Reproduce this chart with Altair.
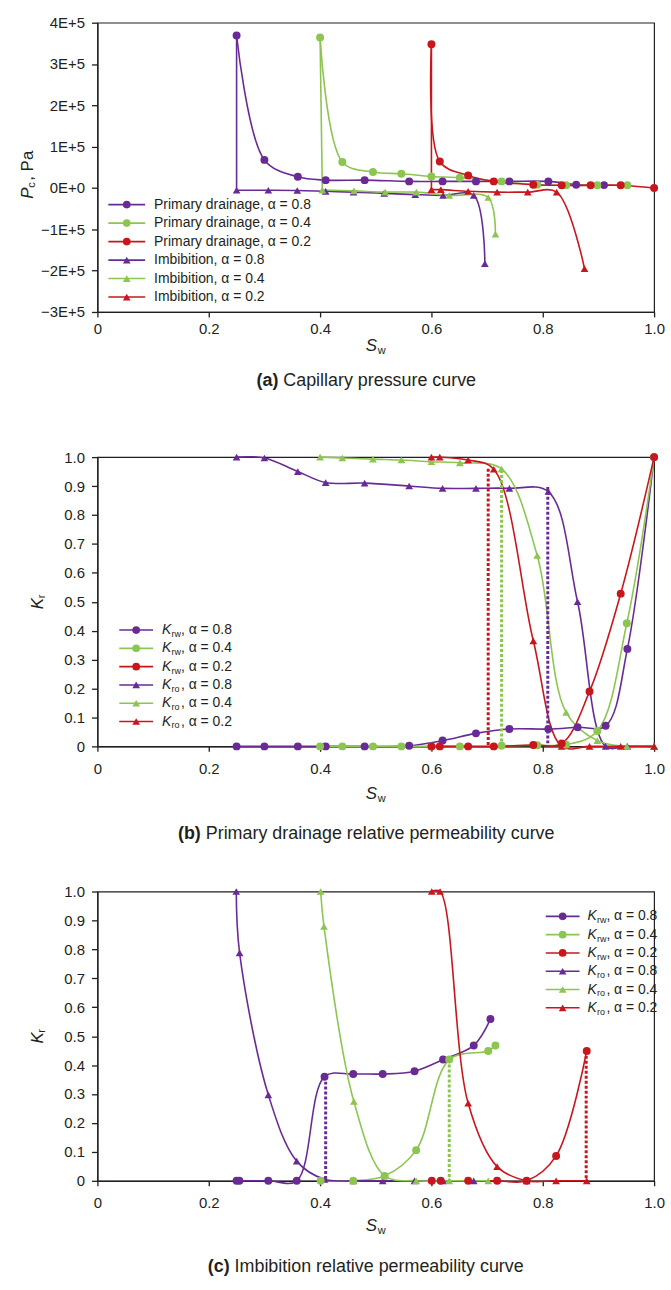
import altair as alt
import pandas as pd

FONT = "Liberation Sans"
INK = "#231f20"
PURPLE = "#6a2a96"
GREEN = "#8cc54f"
RED = "#c9161d"
W, H = 560, 291

X_TICKS = [0, 0.2, 0.4, 0.6, 0.8, 1.0]

# ---------------- (a) Capillary pressure curve ----------------
a_pd08_sw = [0.25, 0.30, 0.36, 0.41, 0.48, 0.56, 0.62, 0.68, 0.74, 0.81, 0.86, 0.91]
a_pd08_pc = [3.69e5, 0.68e5, 0.27e5, 0.19e5, 0.19e5, 0.16e5, 0.16e5, 0.16e5, 0.16e5, 0.16e5, 0.08e5, 0.07e5]
a_pd04_sw = [0.40, 0.44, 0.495, 0.546, 0.60, 0.651, 0.726, 0.79, 0.842, 0.898, 0.952]
a_pd04_pc = [3.64e5, 0.63e5, 0.385e5, 0.345e5, 0.28e5, 0.25e5, 0.16e5, 0.08e5, 0.065e5, 0.065e5, 0.065e5]
a_pd02_sw = [0.60, 0.615, 0.666, 0.712, 0.783, 0.834, 0.886, 0.94, 1.0]
a_pd02_pc = [3.48e5, 0.64e5, 0.305e5, 0.16e5, 0.08e5, 0.065e5, 0.065e5, 0.065e5, 0.0]
a_im08_sw = [0.25, 0.25, 0.307, 0.359, 0.41, 0.46, 0.515, 0.571, 0.621, 0.676, 0.696]
a_im08_pc = [3.69e5, -0.055e5, -0.055e5, -0.06e5, -0.08e5, -0.10e5, -0.13e5, -0.16e5, -0.18e5, -0.18e5, -1.83e5]
a_im04_sw = [0.40, 0.404, 0.461, 0.517, 0.573, 0.632, 0.702, 0.715]
a_im04_pc = [3.64e5, -0.05e5, -0.07e5, -0.10e5, -0.10e5, -0.18e5, -0.23e5, -1.12e5]
a_im02_sw = [0.60, 0.60, 0.617, 0.666, 0.718, 0.773, 0.825, 0.875]
a_im02_pc = [3.48e5, -0.04e5, -0.04e5, -0.08e5, -0.10e5, -0.10e5, -0.10e5, -1.95e5]
a_y_ticks = [-3e5, -2e5, -1e5, 0, 1e5, 2e5, 3e5, 4e5]
a_legend = ["Primary drainage, \u03b1 = 0.8", "Primary drainage, \u03b1 = 0.4",
            "Primary drainage, \u03b1 = 0.2", "Imbibition, \u03b1 = 0.8",
            "Imbibition, \u03b1 = 0.4", "Imbibition, \u03b1 = 0.2"]

# ---------------- (b) Primary drainage relative permeability ----------------
b_krw08_sw = [0.25, 0.30, 0.36, 0.41, 0.48, 0.56, 0.62, 0.68, 0.74, 0.81, 0.8625, 0.913, 0.952, 1.0]
b_krw08_kr = [0, 0, 0, 0, 0, 0.002, 0.02, 0.045, 0.06, 0.06, 0.066, 0.071, 0.337, 1.0]
b_krw04_sw = [0.40, 0.44, 0.495, 0.546, 0.60, 0.651, 0.726, 0.79, 0.842, 0.898, 0.951, 1.0]
b_krw04_kr = [0, 0, 0, 0, 0, 0, 0.002, 0.004, 0.006, 0.053, 0.426, 1.0]
b_krw02_sw = [0.60, 0.615, 0.666, 0.712, 0.783, 0.834, 0.884, 0.940, 1.0]
b_krw02_kr = [0, 0, 0, 0, 0.005, 0.01, 0.19, 0.528, 1.0]
b_kro08_sw = [0.25, 0.30, 0.36, 0.41, 0.48, 0.56, 0.62, 0.68, 0.74, 0.81, 0.8625, 0.913, 0.952, 1.0]
b_kro08_kr = [1.0, 0.997, 0.95, 0.912, 0.91, 0.90, 0.892, 0.892, 0.892, 0.881, 0.50, 0.0, 0.0, 0.0]
b_kro04_sw = [0.40, 0.44, 0.495, 0.546, 0.60, 0.651, 0.726, 0.79, 0.842, 0.898, 0.951, 1.0]
b_kro04_kr = [1.0, 0.997, 0.993, 0.99, 0.984, 0.98, 0.959, 0.66, 0.117, 0.02, 0.0, 0.0]
b_kro02_sw = [0.60, 0.615, 0.666, 0.712, 0.783, 0.834, 0.884, 0.940, 1.0]
b_kro02_kr = [1.0, 1.0, 0.99, 0.958, 0.365, 0.0, 0.0, 0.0, 0.0]
b_dot_sw = [0.702, 0.726, 0.809]
b_dot_top = [0.96, 0.955, 0.897]
b_dot_col = [RED, GREEN, PURPLE]

# ---------------- (c) Imbibition relative permeability ----------------
c_krw08_sw = [0.25, 0.255, 0.307, 0.358, 0.408, 0.4595, 0.5125, 0.5696, 0.621, 0.676, 0.706]
c_krw08_kr = [0, 0, 0, 0, 0.36, 0.369, 0.369, 0.379, 0.419, 0.468, 0.559]
c_krw04_sw = [0.401, 0.4595, 0.516, 0.5726, 0.632, 0.702, 0.715]
c_krw04_kr = [0, 0, 0.017, 0.106, 0.419, 0.449, 0.468]
c_krw02_sw = [0.6006, 0.6166, 0.666, 0.718, 0.771, 0.824, 0.879]
c_krw02_kr = [0, 0, 0, 0, 0, 0.086, 0.449]
c_kro08_sw = [0.2494, 0.2554, 0.307, 0.358, 0.408, 0.4595, 0.5125, 0.5696, 0.621, 0.676]
c_kro08_kr = [1.0, 0.788, 0.297, 0.068, 0.005, 0.0, 0.0, 0.0, 0.0, 0.0]
c_kro04_sw = [0.401, 0.407, 0.4607, 0.516, 0.5726, 0.632, 0.702]
c_kro04_kr = [1.0, 0.879, 0.274, 0.017, 0.0, 0.0, 0.0]
c_kro02_sw = [0.6006, 0.6155, 0.666, 0.718, 0.771, 0.824, 0.879]
c_kro02_kr = [1.0, 1.0, 0.268, 0.049, 0.0, 0.0, 0.0]
c_dot_sw = [0.41, 0.632, 0.878]
c_dot_top = [0.36, 0.419, 0.449]
c_dot_col = [PURPLE, GREEN, RED]

kr_ticks = [round(0.1 * i, 1) for i in range(11)]
kr_sub = ["rw", "rw", "rw", "ro", "ro", "ro"]
kr_rest = [", \u03b1 = 0.8", ", \u03b1 = 0.4", ", \u03b1 = 0.2", ", \u03b1 = 0.8", ", \u03b1 = 0.4", ", \u03b1 = 0.2"]
series_colors = [PURPLE, GREEN, RED, PURPLE, GREEN, RED]
series_shapes = ["circle"] * 3 + ["triangle-up"] * 3


def build(series):
    """Curve rows (smoothed), straight first-segment rows, marker rows."""
    rows, segs = [], []
    for name, sw, v, color, shape, straight_first in series:
        for i, (x, y) in enumerate(zip(sw, v)):
            rec = dict(series=name, sw=x, v=y, color=color, shape=shape, idx=i,
                       marked=not (straight_first and i == 0))
            if straight_first and i <= 1:
                segs.append(dict(rec, series=name + "_seg"))
            if not (straight_first and i == 0):
                rows.append(rec)
    return pd.DataFrame(rows), (pd.DataFrame(segs) if segs else None)


def txt(label, x, y, size, style="normal", weight="normal", align="left", angle=0):
    kw = dict(align=align, baseline="middle", fontSize=size, font=FONT,
              fontStyle=style, fontWeight=weight, color=INK)
    if angle:
        kw["angle"] = angle
    return alt.Chart(pd.DataFrame({"t": [label]})).mark_text(**kw).encode(
        x=alt.value(x), y=alt.value(y), text="t:N")


def legend_sym(color, shape, x1, x2, y):
    d = pd.DataFrame({"c": [color]})
    rule = alt.Chart(d).mark_rule(strokeWidth=1.6, color=color).encode(
        x=alt.value(x1), x2=alt.value(x2), y=alt.value(y))
    pt = alt.Chart(d).mark_point(shape=shape, filled=True, opacity=1, size=60, color=color).encode(
        x=alt.value((x1 + x2) / 2), y=alt.value(y))
    return [rule, pt]


def panel(dfs, dots, ydom, yvals, yexpr, xpad, extra):
    df, segs = dfs
    xs = alt.Scale(domain=[0, 1], nice=False, zero=False)
    ys = alt.Scale(domain=ydom, nice=False, zero=False)
    xa = alt.Axis(values=X_TICKS, labelExpr="datum.value == 0 ? '0' : format(datum.value, '.1f')",
                  title=None, grid=False, labelFlush=False, labelOverlap=False,
                  tickSize=5, labelPadding=xpad)
    ya = alt.Axis(values=yvals, labelExpr=yexpr, title=None, grid=False, labelOverlap=False,
                  tickSize=6, labelPadding=7)
    X = alt.X("sw:Q", scale=xs, axis=xa)
    Y = alt.Y("v:Q", scale=ys, axis=ya)
    col = alt.Color("color:N", scale=None)
    layers = [alt.Chart(df).mark_line(interpolate="catmull-rom", strokeWidth=1.6).encode(
        x=X, y=Y, color=col, detail="series:N", order="idx:Q")]
    if segs is not None:
        layers.append(alt.Chart(segs).mark_line(strokeWidth=1.6).encode(
            x=X, y=Y, color=col, detail="series:N", order="idx:Q"))
    if dots is not None:
        layers.append(alt.Chart(dots).mark_rule(strokeDash=[3, 2], strokeWidth=3).encode(
            x=X, y=Y, y2="v0:Q", color=col))
    marked = df[df["marked"]]
    layers.append(alt.Chart(marked[marked["shape"] == "triangle-up"]).mark_point(
        shape="triangle-up", filled=True, size=60, opacity=1).encode(x=X, y=Y, color=col))
    layers.append(alt.Chart(marked[marked["shape"] == "circle"]).mark_point(
        shape="circle", filled=True, size=64, opacity=1).encode(x=X, y=Y, color=col))
    layers += extra
    return alt.layer(*layers).properties(width=W, height=H)


def sw_title(y):
    return [txt("S", 270, y, 17, style="italic"), txt("w", 282, y + 5, 11)]


def caption(tag, rest, xsplit, y):
    return [txt(tag, xsplit, y, 18, weight="bold", align="right"), txt(rest, xsplit + 5, y, 18)]


def kr_title():
    return [txt("K", -60, 153, 17, style="italic", angle=270),
            txt("r", -56, 142, 11, angle=270)]


def kr_legend(x1, x2, xt, y0, step):
    out = []
    for i in range(6):
        y = y0 + step * i
        out += legend_sym(series_colors[i], series_shapes[i], x1, x2, y)
        out.append(txt("K", xt, y, 14, style="italic"))
        out.append(txt(kr_sub[i], xt + 9.5, y + 4, 9))
        out.append(txt(kr_rest[i], xt + 19, y, 14))
    return out


# ---- panel a ----
a_dfs = build([
    ("pd08", a_pd08_sw, a_pd08_pc, PURPLE, "circle", False),
    ("pd04", a_pd04_sw, a_pd04_pc, GREEN, "circle", False),
    ("pd02", a_pd02_sw, a_pd02_pc, RED, "circle", False),
    ("im08", a_im08_sw, a_im08_pc, PURPLE, "triangle-up", True),
    ("im04", a_im04_sw, a_im04_pc, GREEN, "triangle-up", True),
    ("im02", a_im02_sw, a_im02_pc, RED, "triangle-up", True),
])
a_extra = []
for i, lab in enumerate(a_legend):
    y = 183 + 18.6 * i
    a_extra += legend_sym(series_colors[i], series_shapes[i], 11, 48, y)
    a_extra.append(txt(lab, 57, y, 14))
a_extra += [txt("P", -70, 177, 17, style="italic", angle=270),
            txt("c", -66, 166, 11, angle=270),
            txt(", Pa", -70, 159, 17, angle=270)]
a_extra += sw_title(325)
a_extra += caption("(a)", "Capillary pressure curve", 182, 360)
a_yexpr = ("datum.value == 0 ? '0E+0' : (datum.value < 0 ? '\u2212' : '') + "
           "round(abs(datum.value) / 100000) + 'E+5'")
chart_a = panel(a_dfs, None, [-3e5, 4e5], a_y_ticks, a_yexpr, 5, a_extra)

# ---- panel b ----
b_dfs = build([
    ("krw08", b_krw08_sw, b_krw08_kr, PURPLE, "circle", False),
    ("krw04", b_krw04_sw, b_krw04_kr, GREEN, "circle", False),
    ("krw02", b_krw02_sw, b_krw02_kr, RED, "circle", False),
    ("kro08", b_kro08_sw, b_kro08_kr, PURPLE, "triangle-up", False),
    ("kro04", b_kro04_sw, b_kro04_kr, GREEN, "triangle-up", False),
    ("kro02", b_kro02_sw, b_kro02_kr, RED, "triangle-up", False),
])
b_dots = pd.DataFrame({"sw": b_dot_sw, "v": b_dot_top, "v0": [0] * 3, "color": b_dot_col})
kr_expr = "datum.value == 0 ? '0' : format(datum.value, '.1f')"
b_extra = kr_legend(22, 56, 65, 174, 18.4) + kr_title() + sw_title(339)
b_extra += caption("(b)", "Primary drainage relative permeability curve", 104, 379)
chart_b = panel(b_dfs, b_dots, [0, 1], kr_ticks, kr_expr, 10, b_extra)

# ---- panel c ----
c_dfs = build([
    ("krw08", c_krw08_sw, c_krw08_kr, PURPLE, "circle", False),
    ("krw04", c_krw04_sw, c_krw04_kr, GREEN, "circle", False),
    ("krw02", c_krw02_sw, c_krw02_kr, RED, "circle", False),
    ("kro08", c_kro08_sw, c_kro08_kr, PURPLE, "triangle-up", False),
    ("kro04", c_kro04_sw, c_kro04_kr, GREEN, "triangle-up", False),
    ("kro02", c_kro02_sw, c_kro02_kr, RED, "triangle-up", False),
])
c_dots = pd.DataFrame({"sw": c_dot_sw, "v": c_dot_top, "v0": [0] * 3, "color": c_dot_col})
c_extra = kr_legend(451, 485, 493, 25, 18.4) + kr_title() + sw_title(337)
c_extra += caption("(c)", "Imbibition relative permeability curve", 133, 378)
chart_c = panel(c_dfs, c_dots, [0, 1], kr_ticks, kr_expr, 10, c_extra)

chart = alt.vconcat(chart_a, chart_b, chart_c, spacing=146, bounds="flush").properties(
    padding={"left": 18, "top": 11, "right": 5, "bottom": 5},
    background="white",
).configure_view(stroke=INK, strokeWidth=1.2).configure_axis(
    domainColor=INK, tickColor=INK, labelColor=INK, labelFont=FONT, labelFontSize=15,
    domainWidth=1.3, tickWidth=1.3)

chart.save("out.html", embed_options={"renderer": "svg", "actions": False})
